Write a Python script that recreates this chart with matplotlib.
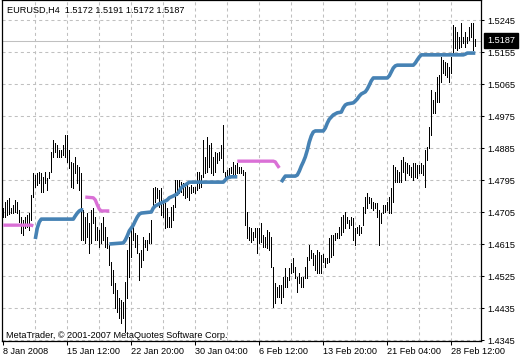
import matplotlib
matplotlib.use("Agg")
from matplotlib import pyplot as plt
from matplotlib import transforms

plt.rcParams['font.family'] = ['Liberation Sans', 'DejaVu Sans']
plt.rcParams['lines.scale_dashes'] = False

titulo = "EURUSD,H4  1.5172 1.5191 1.5172 1.5187"
copyright_txt = "MetaTrader, © 2001-2007 MetaQuotes Software Corp."
ultimo = 1.5187

# maximos y minimos de cada vela H4
highs = [
    1.4716, 1.4733, 1.4739, 1.4745, 1.4716, 1.4725, 1.4739, 1.4733, 1.4711, 1.4691,
    1.4683, 1.4691, 1.4697, 1.4702, 1.4753, 1.4815, 1.4809, 1.4815, 1.4818, 1.4815,
    1.4804, 1.4818, 1.4801, 1.4818, 1.4874, 1.4908, 1.4899, 1.4894, 1.4879, 1.4879,
    1.4894, 1.4922, 1.4922, 1.4879, 1.4846, 1.4843, 1.4860, 1.4837, 1.4832, 1.4815,
    1.4711, 1.4691, 1.4702, 1.4674, 1.4711, 1.4716, 1.4691, 1.4663, 1.4654, 1.4674,
    1.4691, 1.4663, 1.4635, 1.4612, 1.4564, 1.4542, 1.4505, 1.4486, 1.4463, 1.4458,
    1.4452, 1.4508, 1.4598, 1.4635, 1.4654, 1.4663, 1.4646, 1.4640, 1.4590, 1.4598,
    1.4635, 1.4626, 1.4626, 1.4646, 1.4683, 1.4773, 1.4775, 1.4773, 1.4767, 1.4773,
    1.4733, 1.4730, 1.4716, 1.4691, 1.4719, 1.4725, 1.4795, 1.4795, 1.4795, 1.4789,
    1.4787, 1.4775, 1.4781, 1.4775, 1.4781, 1.4775, 1.4775, 1.4818, 1.4818, 1.4809,
    1.4908, 1.4860, 1.4916, 1.4894, 1.4899, 1.4860, 1.4874, 1.4871, 1.4874, 1.4894,
    1.4950, 1.4818, 1.4823, 1.4829, 1.4832, 1.4846, 1.4837, 1.4843, 1.4832, 1.4832,
    1.4823, 1.4818, 1.4705, 1.4663, 1.4660, 1.4649, 1.4660, 1.4660, 1.4660, 1.4674,
    1.4640, 1.4635, 1.4654, 1.4649, 1.4635, 1.4550, 1.4505, 1.4494, 1.4500, 1.4500,
    1.4522, 1.4548, 1.4522, 1.4548, 1.4561, 1.4576, 1.4550, 1.4522, 1.4533, 1.4522,
    1.4522, 1.4550, 1.4578, 1.4612, 1.4598, 1.4590, 1.4584, 1.4598, 1.4593, 1.4584,
    1.4587, 1.4576, 1.4576, 1.4632, 1.4640, 1.4640, 1.4646, 1.4646, 1.4663, 1.4691,
    1.4697, 1.4705, 1.4691, 1.4683, 1.4691, 1.4688, 1.4660, 1.4663, 1.4668, 1.4663,
    1.4719, 1.4747, 1.4759, 1.4747, 1.4745, 1.4733, 1.4730, 1.4730, 1.4711, 1.4702,
    1.4725, 1.4725, 1.4733, 1.4747, 1.4773, 1.4837, 1.4832, 1.4823, 1.4818, 1.4851,
    1.4860, 1.4846, 1.4843, 1.4837, 1.4832, 1.4843, 1.4843, 1.4837, 1.4837, 1.4843,
    1.4837, 1.4879, 1.4888, 1.4944, 1.5048, 1.5020, 1.5043, 1.5085, 1.5090, 1.5141,
    1.5133, 1.5127, 1.5124, 1.5113, 1.5141, 1.5231, 1.5225, 1.5211, 1.5197, 1.5237,
    1.5197, 1.5211, 1.5197, 1.5225, 1.5237, 1.5237, 1.5191,
]
lows = [
    1.4691, 1.4691, 1.4697, 1.4699, 1.4702, 1.4702, 1.4705, 1.4702, 1.4677, 1.4646,
    1.4640, 1.4660, 1.4663, 1.4654, 1.4683, 1.4747, 1.4775, 1.4781, 1.4787, 1.4761,
    1.4761, 1.4787, 1.4767, 1.4801, 1.4818, 1.4860, 1.4874, 1.4860, 1.4860, 1.4860,
    1.4865, 1.4860, 1.4846, 1.4829, 1.4775, 1.4773, 1.4815, 1.4787, 1.4767, 1.4626,
    1.4626, 1.4618, 1.4635, 1.4590, 1.4618, 1.4674, 1.4626, 1.4626, 1.4607, 1.4618,
    1.4626, 1.4607, 1.4604, 1.4556, 1.4500, 1.4477, 1.4435, 1.4424, 1.4407, 1.4393,
    1.4407, 1.4368, 1.4463, 1.4522, 1.4578, 1.4626, 1.4607, 1.4590, 1.4514, 1.4550,
    1.4570, 1.4607, 1.4598, 1.4618, 1.4618, 1.4719, 1.4733, 1.4745, 1.4719, 1.4697,
    1.4691, 1.4660, 1.4663, 1.4663, 1.4663, 1.4683, 1.4719, 1.4753, 1.4759, 1.4761,
    1.4753, 1.4745, 1.4747, 1.4739, 1.4759, 1.4761, 1.4759, 1.4767, 1.4773, 1.4775,
    1.4804, 1.4815, 1.4818, 1.4832, 1.4815, 1.4809, 1.4818, 1.4843, 1.4851, 1.4857,
    1.4818, 1.4801, 1.4804, 1.4809, 1.4815, 1.4809, 1.4809, 1.4815, 1.4815, 1.4815,
    1.4809, 1.4668, 1.4632, 1.4626, 1.4621, 1.4626, 1.4635, 1.4590, 1.4618, 1.4621,
    1.4607, 1.4607, 1.4604, 1.4598, 1.4550, 1.4438, 1.4449, 1.4466, 1.4466, 1.4449,
    1.4466, 1.4494, 1.4494, 1.4514, 1.4533, 1.4536, 1.4519, 1.4480, 1.4505, 1.4494,
    1.4494, 1.4519, 1.4519, 1.4570, 1.4576, 1.4556, 1.4542, 1.4533, 1.4533, 1.4533,
    1.4564, 1.4550, 1.4561, 1.4564, 1.4578, 1.4584, 1.4626, 1.4632, 1.4632, 1.4640,
    1.4649, 1.4660, 1.4674, 1.4660, 1.4668, 1.4626, 1.4612, 1.4646, 1.4640, 1.4646,
    1.4668, 1.4702, 1.4716, 1.4730, 1.4716, 1.4711, 1.4716, 1.4691, 1.4612, 1.4674,
    1.4702, 1.4705, 1.4711, 1.4702, 1.4702, 1.4733, 1.4789, 1.4789, 1.4789, 1.4789,
    1.4818, 1.4795, 1.4815, 1.4809, 1.4804, 1.4795, 1.4804, 1.4801, 1.4815, 1.4815,
    1.4809, 1.4775, 1.4851, 1.4885, 1.4922, 1.4984, 1.4984, 1.5014, 1.5014, 1.5071,
    1.5096, 1.5090, 1.5085, 1.5071, 1.5096, 1.5152, 1.5166, 1.5161, 1.5166, 1.5169,
    1.5180, 1.5169, 1.5180, 1.5189, 1.5197, 1.5161, 1.5172,
]

# indicador azul (tramos), indice de vela y valor
azul_idx_1 = [16, 17, 18, 19, 35, 36, 37, 38, 39, 40]
azul_val_1 = [1.4629, 1.4660, 1.4677, 1.4685, 1.4685, 1.4694, 1.4702, 1.4708, 1.4711, 1.4711]
azul_idx_2 = [53, 60, 61, 62, 63, 64, 65, 66, 67, 68, 69, 74, 75, 76, 77, 78,
              80, 82, 83, 85, 87, 88, 89, 90, 91, 93, 110, 111, 112, 114, 117]
azul_val_2 = [1.4615, 1.4618, 1.4626, 1.4638, 1.4652, 1.4660, 1.4668, 1.4680, 1.4691, 1.4699,
              1.4702, 1.4705, 1.4716, 1.4722, 1.4725, 1.4728, 1.4733, 1.4739, 1.4745, 1.4750,
              1.4756, 1.4764, 1.4773, 1.4778, 1.4781, 1.4789, 1.4789, 1.4795, 1.4801, 1.4804,
              1.4804]
azul_idx_3 = [139, 140, 141, 146, 147, 148, 149, 150, 151, 152,
              153, 154, 155, 156, 160, 161, 162, 163, 164, 165,
              167, 169, 170, 171, 172, 175, 176, 177, 178, 179,
              180, 181, 182, 183, 184, 185, 192, 193, 194, 195,
              196, 197, 205, 206, 207, 208, 209, 230, 231, 232, 236]
azul_val_3 = [1.4789, 1.4798, 1.4806, 1.4806, 1.4809, 1.4820, 1.4834, 1.4846, 1.4860, 1.4879,
              1.4902, 1.4919, 1.4930, 1.4933, 1.4933, 1.4941, 1.4955, 1.4966, 1.4972, 1.4978,
              1.4984, 1.4986, 1.4998, 1.5006, 1.5009, 1.5012, 1.5017, 1.5023, 1.5031, 1.5037,
              1.5040, 1.5043, 1.5051, 1.5062, 1.5074, 1.5082, 1.5082, 1.5088, 1.5099, 1.5110,
              1.5116, 1.5118, 1.5118, 1.5124, 1.5133, 1.5141, 1.5147, 1.5147, 1.5149, 1.5152,
              1.5152]

# indicador violeta
vio_idx_1 = [0, 14, 15]
vio_val_1 = [1.4668, 1.4668, 1.4666]
vio_idx_2 = [41, 45, 46, 47, 48, 49, 53]
vio_val_2 = [1.4747, 1.4745, 1.4739, 1.4725, 1.4713, 1.4708, 1.4708]
vio_idx_3 = [117, 135, 136, 137, 138]
vio_val_3 = [1.4848, 1.4848, 1.4846, 1.4837, 1.4829]

precios = [1.4345, 1.4435, 1.4525, 1.4615, 1.4705, 1.4795, 1.4885, 1.4975, 1.5065, 1.5155, 1.5245]
fechas_pos = [0, 32, 64, 96, 128, 160, 192, 224]
fechas = ["8 Jan 2008", "15 Jan 12:00", "22 Jan 20:00", "30 Jan 04:00",
          "6 Feb 12:00", "13 Feb 20:00", "21 Feb 04:00", "28 Feb 12:00"]
rejilla_x = list(range(16, 240, 16))

fig = plt.figure(figsize=(5.2, 3.6), dpi=100)
ax = fig.add_axes([2 / 520, 19 / 360, 479 / 520, 341 / 360])
ax.set_xlim(-0.65, 238.85)
ax.set_ylim(1.43422, 1.530125)

gris = "#C0C0C0"
for p in precios:
    ax.axhline(p, color=gris, lw=0.75, linestyle=(0, (2.2, 2.2)), zorder=0)
for g in rejilla_x:
    ax.axvline(g, color=gris, lw=0.75, linestyle=(0, (2.2, 2.2)), zorder=0)
ax.axhline(ultimo, color=gris, lw=0.75, zorder=0)

# velas como barras verticales
ax.vlines(range(len(highs)), lows, highs, color="black", lw=0.7, antialiased=False, zorder=2)

azul = "#4682B4"
violeta = "#DA70D6"
for xi, yi in [(azul_idx_1, azul_val_1), (azul_idx_2, azul_val_2), (azul_idx_3, azul_val_3)]:
    ax.plot(xi, yi, color=azul, lw=2.6, solid_capstyle="butt", zorder=3)
for xi, yi in [(vio_idx_1, vio_val_1), (vio_idx_2, vio_val_2), (vio_idx_3, vio_val_3)]:
    ax.plot(xi, yi, color=violeta, lw=2.4, solid_capstyle="butt", zorder=3)

ax.yaxis.tick_right()
ax.set_yticks(precios)
ax.set_yticklabels(["%.4f" % p for p in precios])
ax.set_xticks(fechas_pos)
ax.set_xticklabels(fechas, ha="left")
ax.tick_params(axis="y", length=2.2, width=0.75, pad=2.2, labelsize=6.6, colors="black")
ax.tick_params(axis="x", length=2.9, width=0.75, pad=1.2, labelsize=6.6, colors="black")
for s in ax.spines.values():
    s.set_color("black")
    s.set_linewidth(0.9)

trans = transforms.blended_transform_factory(ax.transAxes, ax.transData)
ax.text(1 + 6 / 479, ultimo, "%.4f" % ultimo, transform=trans, ha="left", va="center",
        fontsize=6.6, color="white",
        bbox=dict(boxstyle="square,pad=0.3", facecolor="black", edgecolor="black"))

fig.text(7 / 520, 1 - 10 / 360, titulo, fontsize=6.6, va="center", ha="left")
fig.text(6 / 520, 1 - 335 / 360, copyright_txt, fontsize=6.6, va="center", ha="left")

fig.savefig("out.png", dpi=100)
